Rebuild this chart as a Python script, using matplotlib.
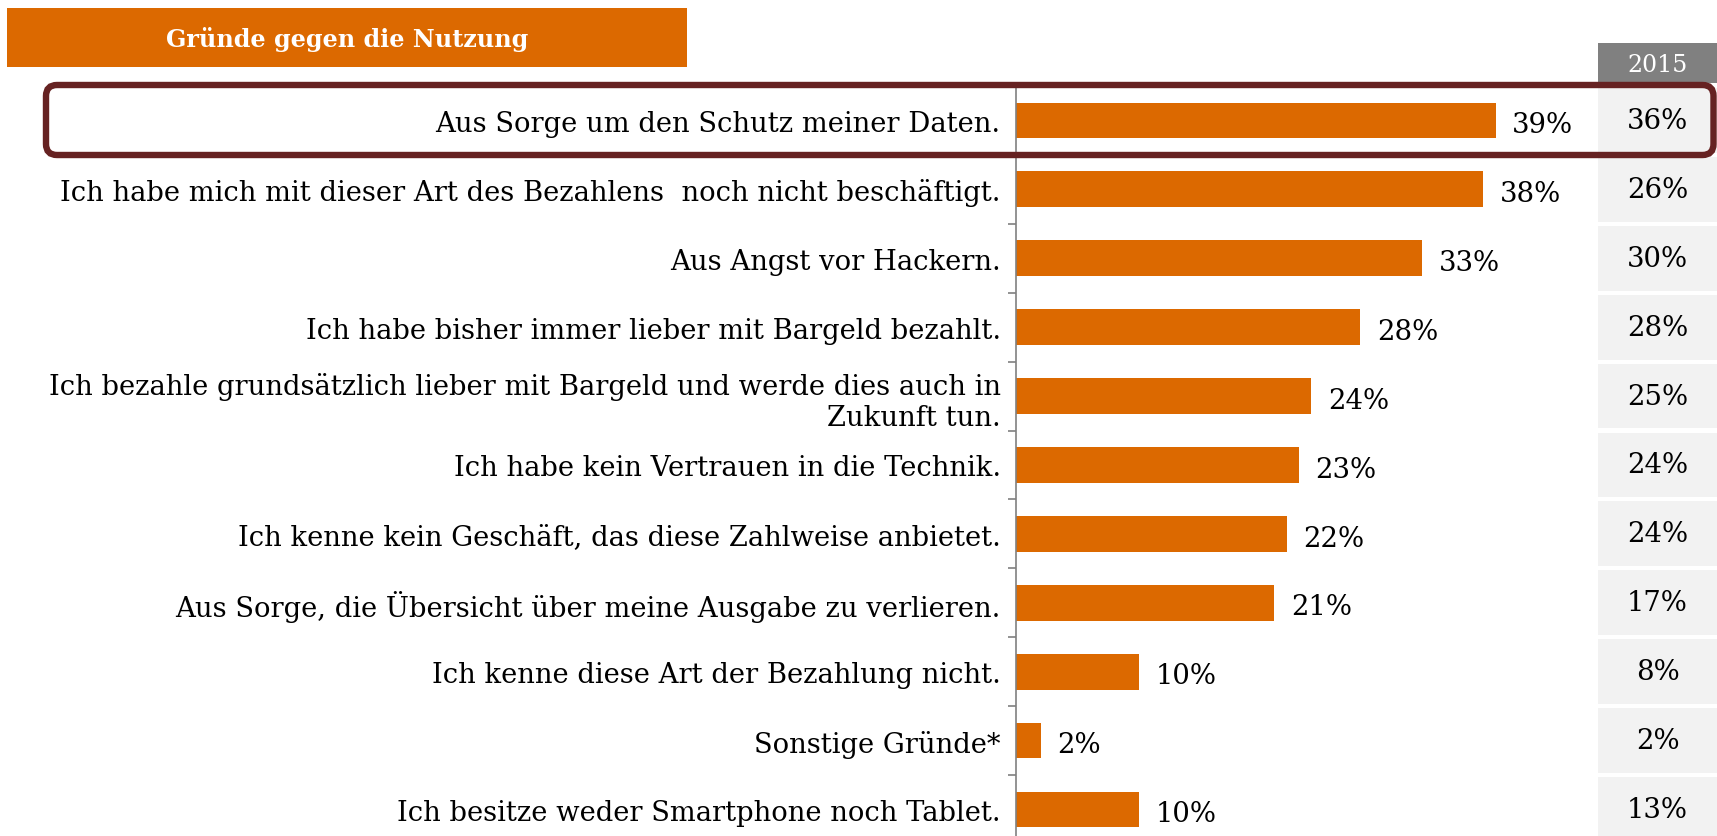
import matplotlib
matplotlib.use("Agg")
import matplotlib.pyplot as plt
from matplotlib.patches import Rectangle, FancyBboxPatch
from matplotlib.transforms import blended_transform_factory

plt.rcParams['font.family'] = ['DejaVu Serif']

# data
reasons = [
    "Aus Sorge um den Schutz meiner Daten.",
    "Ich habe mich mit dieser Art des Bezahlens  noch nicht beschäftigt.",
    "Aus Angst vor Hackern.",
    "Ich habe bisher immer lieber mit Bargeld bezahlt.",
    "Ich bezahle grundsätzlich lieber mit Bargeld und werde dies auch in\nZukunft tun.",
    "Ich habe kein Vertrauen in die Technik.",
    "Ich kenne kein Geschäft, das diese Zahlweise anbietet.",
    "Aus Sorge, die Übersicht über meine Ausgabe zu verlieren.",
    "Ich kenne diese Art der Bezahlung nicht.",
    "Sonstige Gründe*",
    "Ich besitze weder Smartphone noch Tablet.",
]
values_2016 = [39, 38, 33, 28, 24, 23, 22, 21, 10, 2, 10]
values_2015 = [36, 26, 30, 28, 25, 24, 24, 17, 8, 2, 13]
title = "Gründe gegen die Nutzung"
year_prev = "2015"

ORANGE = "#dc6900"
GREY = "#808080"
CELL = "#f2f2f2"
FRAME = "#662222"

W, H = 1717, 837
fig = plt.figure(figsize=(W / 100, H / 100), dpi=100)

ax_left, ax_right, ax_top = 1016, 1598, 87
ax = fig.add_axes([ax_left / W, 0, (ax_right - ax_left) / W, (H - ax_top) / H])

pos = list(range(len(reasons)))
ax.barh(pos, values_2016, height=0.52, color=ORANGE)
ax.set_xlim(0, (ax_right - ax_left) / 12.3)
ax.set_ylim(10.385, -0.5)

for i, v in enumerate(values_2016):
    ax.annotate(f"{v}%", (v, i), xytext=(12, -3), textcoords="offset points",
                va="center", ha="left", fontsize=19.8)

for s in ["top", "right", "bottom"]:
    ax.spines[s].set_visible(False)
ax.spines["left"].set_color(GREY)
ax.spines["left"].set_linewidth(1.2)
ax.set_xticks([])
ax.set_yticks(pos)
ax.set_yticklabels(reasons, fontsize=19.7)
ax.tick_params(axis="y", which="major", length=0, pad=11)
ax.set_yticks([p + 0.5 for p in pos[:-1]], minor=True)
ax.tick_params(axis="y", which="minor", length=6, color=GREY, width=1.2, direction="out")

# 2015 comparison column
tr = blended_transform_factory(fig.transFigure, ax.transData)
cx0 = ax_right / W
cw = (W - ax_right) / W
for i, v in enumerate(values_2015):
    ax.add_patch(Rectangle((cx0, i - 0.47), cw, 0.94, transform=tr,
                           facecolor=CELL, edgecolor="none", clip_on=False))
    ax.text(cx0 + cw / 2, i, f"{v}%", transform=tr, ha="center", va="center",
            fontsize=19.8, clip_on=False)

fig.add_artist(Rectangle((ax_right / W, 1 - 84 / H), cw, 40 / H,
                         transform=fig.transFigure, facecolor=GREY, edgecolor="none"))
fig.text((ax_right + W) / 2 / W, 1 - 65 / H, year_prev, color="white",
         ha="center", va="center", fontsize=17)

# title box
fig.add_artist(Rectangle((7 / W, 1 - 68 / H), 680 / W, 59 / H,
                         transform=fig.transFigure, facecolor=ORANGE, edgecolor="none"))
fig.text(347 / W, 1 - 39 / H, title, color="white", fontweight="bold",
         ha="center", va="center", fontsize=17.2)

# highlight frame round the first row
frame = FancyBboxPatch((0.46, 6.81), 16.675, 0.70,
                       boxstyle="round,pad=0,rounding_size=0.11",
                       transform=fig.dpi_scale_trans, facecolor="none",
                       edgecolor=FRAME, linewidth=4.6, zorder=5)
fig.add_artist(frame)

fig.savefig("out.png", dpi=100)
